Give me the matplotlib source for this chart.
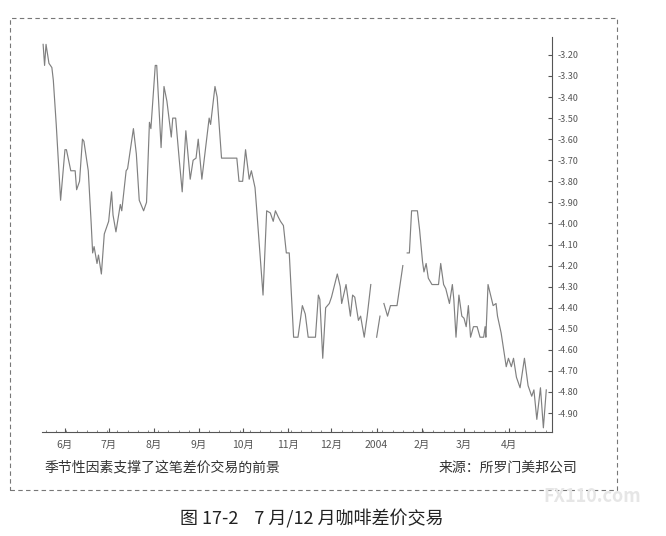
import numpy as np
import pandas as pd
import matplotlib
matplotlib.use("Agg")
import matplotlib.pyplot as plt
import matplotlib.dates as mdates
from matplotlib.patches import Rectangle

plt.rcParams['font.family'] = ['Noto Sans CJK SC', 'DejaVu Sans']

# days since 2003-06-01; None marks a break in the line
days = [-15, -14, -13, -11, -9, -8, -6, -3, 0, 1, 4, 7, 8, 10, 12, 13, 16, 18, 19, 20,
        22, 23, 25, 27, 28, 30, 32, 33, 35, 38, 39, 42, 43, 47, 49, 51, 54, 56, 58, 59,
        62, 63, 66, 68, 70, 73, 74, 76, 78.5, 80.5, 83, 86, 88, 90, 91.5, 94, 99, 100, 103, 104.5,
        107.5, 118, 119.5, 122, 124, 126.5, 128, 130.5, 131.5, 136, 138.5, 141, 143, 144.5, 146.5, 148, 150, 152, 154, 157,
        160, 163, 165, 167, 172, 174, 175, 177, 179, 181.5, 183, 187, 189, 190, 193, 196, 197.5, 199, 201.5, 203,
        205.5, 207.5, 210, 212, 214, 216.3, 217.5, 219, 221.5, 223.5, 228, 232, 233.5, 235, 236.5, 238, 242, 243.5, 245.5, 246.5,
        248, 249.5, 252, 256.5, 258, 260, 261.5, 264, 266, 267, 268.5, 270.5, 272.5, 274, 275.5, 277, 278.5, 280.5, 283, 285,
        287.5, 288.5, 289, 290.5, 294, 296, 297, 299.5, 303, 304.5, 306.5, 308, 310, 312.5, 315.5, 318, 320.5, 322, 324, 326.5,
        328.5, 330.5]
spread = [-3.15, -3.25, -3.15, -3.24, -3.26, -3.32, -3.53, -3.89, -3.65, -3.65, -3.75, -3.75, -3.84, -3.80, -3.60, -3.61, -3.75, -4.00, -4.14, -4.11,
          -4.19, -4.15, -4.24, -4.05, -4.03, -3.99, -3.85, -3.96, -4.04, -3.91, -3.94, -3.75, -3.74, -3.55, -3.67, -3.89, -3.94, -3.90, -3.52, -3.55,
          -3.25, -3.25, -3.64, -3.35, -3.42, -3.59, -3.50, -3.50, -3.70, -3.85, -3.56, -3.79, -3.70, -3.69, -3.60, -3.79, -3.50, -3.53, -3.35, -3.40,
          -3.69, -3.69, -3.80, -3.80, -3.65, -3.79, -3.75, -3.83, -3.92, -4.34, -3.94, -3.95, -3.99, -3.94, -3.97, -3.99, -4.01, -4.14, -4.14, -4.54,
          -4.54, -4.39, -4.43, -4.54, -4.54, -4.34, -4.36, -4.64, -4.40, -4.38, -4.35, -4.24, -4.30, -4.38, -4.29, -4.44, -4.34, -4.35, -4.46, -4.44,
          -4.54, -4.44, -4.29, None, -4.54, -4.44, None, -4.38, -4.44, -4.39, -4.39, -4.20, None, -4.14, -4.14, -3.94, -3.94, -4.03, -4.18, -4.23,
          -4.19, -4.26, -4.29, -4.29, -4.19, -4.29, -4.31, -4.38, -4.29, -4.36, -4.54, -4.34, -4.44, -4.45, -4.49, -4.39, -4.54, -4.49, -4.49, -4.54,
          -4.54, -4.49, -4.54, -4.29, -4.39, -4.38, -4.44, -4.52, -4.68, -4.64, -4.68, -4.64, -4.73, -4.78, -4.64, -4.77, -4.82, -4.79, -4.93, -4.78,
          -4.97, -4.79]

month_starts = ["2003-06-01", "2003-07-01", "2003-08-01", "2003-09-01", "2003-10-01", "2003-11-01",
                "2003-12-01", "2004-01-01", "2004-02-01", "2004-03-01", "2004-04-01"]
month_labels = ["6月", "7月", "8月", "9月", "10月", "11月", "12月", "2004", "2月", "3月", "4月"]
yticks = [-3.2, -3.3, -3.4, -3.5, -3.6, -3.7, -3.8, -3.9, -4.0, -4.1,
          -4.2, -4.3, -4.4, -4.5, -4.6, -4.7, -4.8, -4.9]

base = pd.Timestamp("2003-06-01")
dates = [base + pd.Timedelta(days=d) for d in days]
vals = np.array([np.nan if v is None else v for v in spread], dtype=float)

fig = plt.figure(figsize=(6.66, 5.36), dpi=100)
ax = fig.add_axes([0.063, 0.194, 0.766, 0.737])

ax.plot(dates, vals, color="#808080", lw=0.85)

ax.set_xlim(base - pd.Timedelta(days=15.8), base + pd.Timedelta(days=334.5))
ax.set_ylim(-4.99, -3.115)

ax.set_xticks(pd.to_datetime(month_starts))
ax.set_xticklabels(month_labels)
ax.xaxis.set_minor_locator(mdates.WeekdayLocator(byweekday=0))
ax.yaxis.tick_right()
ax.set_yticks(yticks)
ax.set_yticklabels([f"{t:.2f}" for t in yticks])

for s in ["top", "left"]:
    ax.spines[s].set_visible(False)
for s in ["right", "bottom"]:
    ax.spines[s].set_color("#555555")
    ax.spines[s].set_linewidth(0.8)

ax.tick_params(axis="x", which="major", direction="in", length=3, color="#555555",
               labelsize=7.5, labelcolor="#555555", pad=6)
ax.tick_params(axis="x", which="minor", direction="in", length=1.5, color="#777777")
ax.tick_params(axis="y", direction="in", length=3, color="#555555",
               labelsize=6.5, labelcolor="#555555", pad=4)

# dashed frame round the chart
fig.patches.append(Rectangle((10 / 666, 1 - 490 / 536), 607 / 666, 472 / 536,
                             transform=fig.transFigure, fill=False,
                             ls=(0, (4, 3)), lw=0.8, ec="#777777"))

fig.text(44 / 666, 1 - 468 / 536, "季节性因素支撑了这笔差价交易的前景",
         fontsize=10, color="#333333", ha="left", va="center")
fig.text(577 / 666, 1 - 468 / 536, "来源：所罗门美邦公司",
         fontsize=10, color="#333333", ha="right", va="center")
fig.text(312 / 666, 1 - 519 / 536, "图 17-2    7 月/12 月咖啡差价交易",
         fontsize=13, color="#222222", ha="center", va="center")
fig.text(592 / 666, 1 - 496 / 536, "FX110.com", fontsize=13, color="#e6e6e6",
         ha="center", va="center", fontweight="bold")

fig.savefig("out.png", dpi=100)
